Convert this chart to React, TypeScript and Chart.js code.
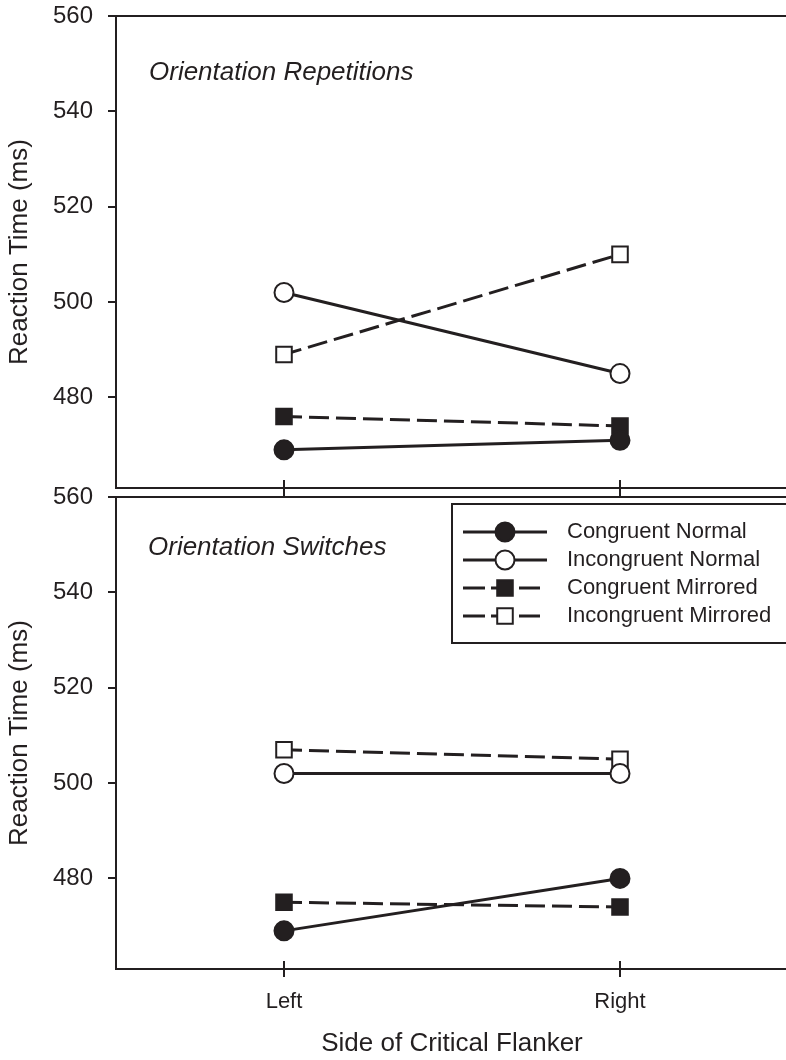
import React, { useEffect, useRef } from 'react';
import { Chart, registerables } from 'chart.js';

Chart.register(...registerables);

// ---------- data ----------
const categories = ['Left', 'Right'];
const seriesNames = ['Congruent Normal', 'Incongruent Normal', 'Congruent Mirrored', 'Incongruent Mirrored'];

const repetitionsCongruentNormal = [469, 471];
const repetitionsIncongruentNormal = [502, 485];
const repetitionsCongruentMirrored = [476, 474];
const repetitionsIncongruentMirrored = [489, 510];

const switchesCongruentNormal = [469, 480];
const switchesIncongruentNormal = [502, 502];
const switchesCongruentMirrored = [475, 474];
const switchesIncongruentMirrored = [507, 505];

const yTicks = [480, 500, 520, 540, 560];
const yMin = 461;
const yMax = 560;

const panelTitles = ['Orientation Repetitions', 'Orientation Switches'];
const yAxisTitle = 'Reaction Time (ms)';
const xAxisTitle = 'Side of Critical Flanker';

// ---------- styles ----------
const INK = '#231f20';
const FONT = "'Liberation Sans', Arial, Helvetica, sans-serif";
Chart.defaults.font.family = FONT;
Chart.defaults.color = INK;

const seriesStyles = [
  { pointStyle: 'circle', radius: 9.5, fill: INK, dash: [] as number[] },
  { pointStyle: 'circle', radius: 9.5, fill: '#ffffff', dash: [] as number[] },
  { pointStyle: 'rect', radius: 11, fill: INK, dash: [20, 7] },
  { pointStyle: 'rect', radius: 11, fill: '#ffffff', dash: [20, 7] },
];

function zeroPadding(s: any) {
  s.paddingTop = 0;
  s.paddingBottom = 0;
  s.paddingLeft = 0;
  s.paddingRight = 0;
}

function drawMarker(ctx: CanvasRenderingContext2D, style: string, r: number, x: number, y: number, fill: string) {
  ctx.save();
  ctx.setLineDash([]);
  ctx.lineWidth = 2;
  ctx.strokeStyle = INK;
  ctx.fillStyle = fill;
  ctx.beginPath();
  if (style === 'circle') {
    ctx.arc(x, y, r, 0, Math.PI * 2);
  } else {
    const s = Math.SQRT1_2 * r;
    ctx.rect(x - s, y - s, 2 * s, 2 * s);
  }
  ctx.fill();
  ctx.stroke();
  ctx.restore();
}

const panelDecor = {
  id: 'panelDecor',
  afterDraw(chart: any, _args: any, opts: any) {
    const { ctx, chartArea } = chart;
    const xs = chart.scales.x;
    ctx.save();
    ctx.strokeStyle = INK;
    ctx.lineWidth = 2;
    ctx.setLineDash([]);
    // top frame line
    ctx.beginPath();
    ctx.moveTo(chartArea.left - 1, chartArea.top);
    ctx.lineTo(chart.width, chartArea.top);
    ctx.stroke();
    // x tick marks crossing the axis
    ctx.beginPath();
    xs.ticks.forEach((_t: any, i: number) => {
      const px = Math.round(xs.getPixelForTick(i));
      ctx.moveTo(px, chartArea.bottom - 8);
      ctx.lineTo(px, chartArea.bottom + 8);
    });
    ctx.stroke();
    // panel title
    ctx.font = `italic 26px ${FONT}`;
    ctx.fillStyle = INK;
    ctx.textAlign = 'left';
    ctx.textBaseline = 'alphabetic';
    ctx.fillText(opts.title, opts.titleX, chartArea.top + opts.titleDy);
    // legend
    if (opts.legend) {
      const top = chartArea.top + 7;
      ctx.lineWidth = 2;
      ctx.strokeRect(452, top, 400, 139);
      chart.data.datasets.forEach((ds: any, i: number) => {
        const y = chartArea.top + 35 + i * 28;
        const st = seriesStyles[i];
        ctx.save();
        ctx.lineWidth = 3;
        ctx.strokeStyle = INK;
        ctx.beginPath();
        if (st.dash.length) {
          ctx.setLineDash([22, 6]);
          ctx.moveTo(463, y);
          ctx.lineTo(540, y);
        } else {
          ctx.setLineDash([]);
          ctx.moveTo(463, y);
          ctx.lineTo(547, y);
        }
        ctx.stroke();
        ctx.restore();
        drawMarker(ctx, st.pointStyle, st.radius, 505, y, st.fill);
        ctx.font = `22px ${FONT}`;
        ctx.fillStyle = INK;
        ctx.textAlign = 'left';
        ctx.textBaseline = 'middle';
        ctx.fillText(ds.label, 567, y);
      });
    }
    ctx.restore();
  },
};

function makeConfig(seriesValues: number[][], panel: any): any {
  return {
    type: 'line',
    data: {
      labels: categories,
      datasets: seriesValues.map((vals, i) => {
        const st = seriesStyles[i];
        return {
          label: seriesNames[i],
          data: vals,
          borderColor: INK,
          borderWidth: 3,
          borderDash: st.dash,
          borderDashOffset: 2,
          tension: 0,
          fill: false,
          pointStyle: st.pointStyle,
          pointRadius: st.radius,
          pointBackgroundColor: st.fill,
          pointBorderColor: INK,
          pointBorderWidth: 2,
        };
      }),
    },
    options: {
      responsive: false,
      animation: false,
      events: [],
      layout: { autoPadding: false, padding: { top: panel.paddingTop, left: 0, right: 0, bottom: 0 } },
      plugins: {
        legend: { display: false },
        tooltip: { enabled: false },
        panelDecor: {
          title: panel.title,
          titleX: panel.titleX,
          titleDy: panel.titleDy,
          legend: panel.legend,
        },
      },
      scales: {
        x: {
          type: 'category',
          offset: true,
          afterFit: (s: any) => {
            s.height = panel.xAxisHeight;
            zeroPadding(s);
          },
          grid: { display: false, drawTicks: false },
          border: { display: true, color: INK, width: 2 },
          ticks: { display: panel.showXLabels, padding: 20, color: INK, font: { size: 22 } },
          title: {
            display: panel.showXLabels,
            text: xAxisTitle,
            color: INK,
            font: { size: 26 },
            padding: { top: 0, bottom: 1 },
          },
        },
        y: {
          min: yMin,
          max: yMax,
          afterFit: (s: any) => {
            s.width = 116;
            zeroPadding(s);
          },
          afterBuildTicks: (s: any) => {
            s.ticks = yTicks.map((v) => ({ value: v }));
          },
          grid: {
            display: true,
            drawOnChartArea: false,
            drawTicks: true,
            tickLength: 8,
            color: INK,
            lineWidth: 2,
          },
          border: { display: true, color: INK, width: 2 },
          ticks: { color: INK, font: { size: 24 }, padding: 15 },
          title: {
            display: true,
            text: yAxisTitle,
            color: INK,
            font: { size: 26 },
            padding: { top: 4, bottom: 0 },
          },
        },
      },
    },
    plugins: [panelDecor],
  };
}

export default function App() {
  const topRef = useRef<HTMLCanvasElement>(null);
  const botRef = useRef<HTMLCanvasElement>(null);

  useEffect(() => {
    const c1 = new Chart(
      topRef.current as HTMLCanvasElement,
      makeConfig(
        [repetitionsCongruentNormal, repetitionsIncongruentNormal, repetitionsCongruentMirrored, repetitionsIncongruentMirrored],
        { title: panelTitles[0], titleX: 149, titleDy: 64, legend: false, showXLabels: false, xAxisHeight: 12, paddingTop: 16 }
      )
    );
    const c2 = new Chart(
      botRef.current as HTMLCanvasElement,
      makeConfig(
        [switchesCongruentNormal, switchesIncongruentNormal, switchesCongruentMirrored, switchesIncongruentMirrored],
        { title: panelTitles[1], titleX: 148, titleDy: 58, legend: true, showXLabels: true, xAxisHeight: 91, paddingTop: 17 }
      )
    );
    return () => {
      c1.destroy();
      c2.destroy();
    };
  }, []);

  return (
    <div style={{ position: 'absolute', left: 0, top: 0, width: 786, height: 1060, overflow: 'hidden', background: '#ffffff' }}>
      <canvas ref={topRef} width={788} height={500} style={{ position: 'absolute', left: 0, top: 0, width: 788, height: 500 }} />
      <canvas ref={botRef} width={788} height={580} style={{ position: 'absolute', left: 0, top: 480, width: 788, height: 580 }} />
    </div>
  );
}
